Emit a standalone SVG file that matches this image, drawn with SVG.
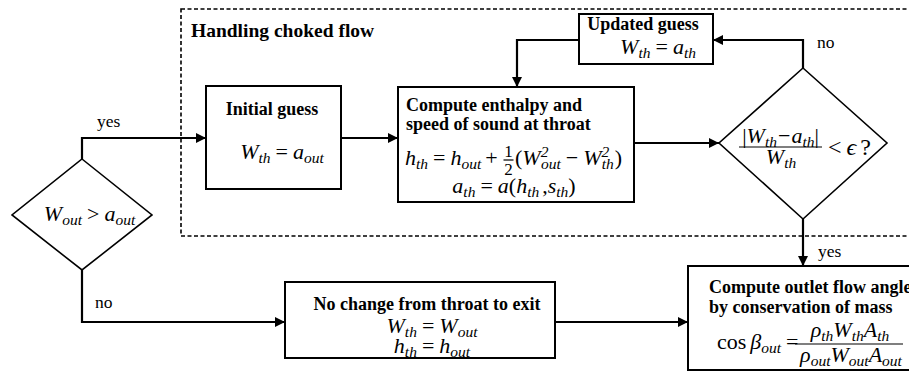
<svg xmlns="http://www.w3.org/2000/svg" width="909" height="374" viewBox="0 0 909 374">
  <defs>
    <marker id="arrow" markerUnits="userSpaceOnUse" markerWidth="11" markerHeight="10" refX="10" refY="5" orient="auto">
      <path d="M0,0 L10,5 L0,10 z" fill="#000"/>
    </marker>
    <style>
      .box { fill: #fff; stroke: #000; stroke-width: 2; }
      .dia { fill: #fff; stroke: #000; stroke-width: 1.6; }
      .wire { fill: none; stroke: #000; stroke-width: 2.2; }
      .arr { marker-end: url(#arrow); }
      .region { fill: none; stroke: #000; stroke-width: 1.6; stroke-dasharray: 4 2.5; }
      .hd { font-family: "Liberation Serif", "Times New Roman", serif; font-weight: bold; font-size: 18px; fill: #000; }
      .lbl { font-family: "Liberation Serif", "Times New Roman", serif; font-size: 17.5px; fill: #000; }
      .m { font-family: "Liberation Serif", "DejaVu Serif", serif; font-style: italic; font-size: 22px; fill: #000; }
      .up { font-style: normal; }
      .s { font-size: 15.5px; }
      .bar { stroke: #000; stroke-width: 1.2; }
    </style>
  </defs>

  <rect width="909" height="374" fill="#fff"/>

  <!-- choked-flow sub-process region -->
  <g id="choked-region">
    <rect class="region" x="181" y="9" width="740" height="227"/>
    <text class="hd" x="191" y="37" style="font-size:19.5px">Handling choked flow</text>
  </g>

  <!-- connectors -->
  <g id="connectors">
    <path class="wire arr" d="M82,159 V138 H206"/>
    <path class="wire arr" d="M341,138 H398"/>
    <path class="wire arr" d="M634,143 H719"/>
    <path class="wire arr" d="M803,68 V40 H713"/>
    <path class="wire arr" d="M579,40 H517 V87"/>
    <path class="wire arr" d="M803,219 V266"/>
    <path class="wire arr" d="M82,270 V322 H285"/>
    <path class="wire arr" d="M555,322 H688"/>
    <text class="lbl" x="97" y="127">yes</text>
    <text class="lbl" x="95" y="308">no</text>
    <text class="lbl" x="817" y="48">no</text>
    <text class="lbl" x="818" y="257">yes</text>
  </g>

  <!-- decision: supersonic outlet? -->
  <g id="check-outlet">
    <path class="dia" d="M82,159 L152,215 L82,270 L12,215 Z"/>
    <text class="m" x="89.5" y="221" text-anchor="middle">W<tspan class="s" dy="4">out</tspan><tspan class="up" dx="5" dy="-4">&gt;</tspan><tspan dx="5">a</tspan><tspan class="s" dy="4">out</tspan></text>
  </g>

  <!-- initial guess -->
  <g id="initial-guess">
    <rect class="box" x="206" y="86" width="135" height="103"/>
    <text class="hd" x="272" y="115" text-anchor="middle">Initial guess</text>
    <text class="m" x="282" y="159" text-anchor="middle">W<tspan class="s" dy="4">th</tspan><tspan class="up" dx="5" dy="-4">=</tspan><tspan dx="5">a</tspan><tspan class="s" dy="4">out</tspan></text>
  </g>

  <!-- enthalpy and speed of sound at throat -->
  <g id="compute-throat">
    <rect class="box" x="398" y="87" width="236" height="115"/>
    <text class="hd" x="406" y="111">Compute enthalpy and</text>
    <text class="hd" x="406" y="130">speed of sound at throat</text>
    <text class="m" x="405" y="165">h<tspan class="s" dy="4">th</tspan><tspan class="up" dx="5" dy="-4">=</tspan><tspan dx="5">h</tspan><tspan class="s" dy="4">out</tspan><tspan class="up" dx="4" dy="-4">+</tspan></text>
    <text class="m up" x="508.5" y="157" text-anchor="middle" style="font-size:17px">1</text>
    <line class="bar" x1="503.5" y1="160" x2="513.5" y2="160"/>
    <text class="m up" x="508.5" y="175" text-anchor="middle" style="font-size:17px">2</text>
    <text class="m" x="515" y="165"><tspan class="up">(</tspan>W<tspan class="s" dy="-8">2</tspan><tspan class="s" dx="-7.5" dy="12">out</tspan><tspan class="up" dx="5" dy="-4">−</tspan><tspan dx="5">W</tspan><tspan class="s" dy="-8">2</tspan><tspan class="s" dx="-7.5" dy="12">th</tspan><tspan class="up" dx="1" dy="-4">)</tspan></text>
    <text class="m" x="514" y="193" text-anchor="middle">a<tspan class="s" dy="4">th</tspan><tspan class="up" dx="5" dy="-4">=</tspan><tspan dx="5">a</tspan><tspan class="up">(</tspan>h<tspan class="s" dy="4">th</tspan><tspan class="up" dx="3" dy="-4">,</tspan>s<tspan class="s" dy="4">th</tspan><tspan class="up" dy="-4">)</tspan></text>
  </g>

  <!-- updated guess -->
  <g id="updated-guess">
    <rect class="box" x="579" y="14" width="134" height="50"/>
    <text class="hd" x="643" y="30" text-anchor="middle">Updated guess</text>
    <text class="m" x="658" y="54" text-anchor="middle">W<tspan class="s" dy="4">th</tspan><tspan class="up" dx="5" dy="-4">=</tspan><tspan dx="5">a</tspan><tspan class="s" dy="4">th</tspan></text>
  </g>

  <!-- convergence check -->
  <g id="check-converged">
    <path class="dia" d="M803,68 L887,143 L803,219 L719,143 Z"/>
    <text class="m" x="780.5" y="143" text-anchor="middle"><tspan class="up">|</tspan>W<tspan class="s" dy="4">th</tspan><tspan class="up" dx="1" dy="-4">−</tspan><tspan dx="1">a</tspan><tspan class="s" dy="4">th</tspan><tspan class="up" dy="-4">|</tspan></text>
    <line class="bar" x1="739" y1="147" x2="822" y2="147"/>
    <text class="m" x="781" y="164" text-anchor="middle">W<tspan class="s" dy="4">th</tspan></text>
    <text class="m" x="828" y="155" style="font-size:24px"><tspan class="up">&lt;</tspan><tspan dx="5">ϵ</tspan><tspan class="up" dx="4">?</tspan></text>
  </g>

  <!-- subsonic branch -->
  <g id="no-change">
    <rect class="box" x="285" y="282" width="270" height="76"/>
    <text class="hd" x="427" y="310" text-anchor="middle">No change from throat to exit</text>
    <text class="m" x="432" y="333" text-anchor="middle">W<tspan class="s" dy="4">th</tspan><tspan class="up" dx="5" dy="-4">=</tspan><tspan dx="5">W</tspan><tspan class="s" dy="4">out</tspan></text>
    <text class="m" x="432" y="353" text-anchor="middle">h<tspan class="s" dy="4">th</tspan><tspan class="up" dx="5" dy="-4">=</tspan><tspan dx="5">h</tspan><tspan class="s" dy="4">out</tspan></text>
  </g>

  <!-- outlet flow angle -->
  <g id="outlet-angle">
    <rect class="box" x="688" y="266" width="240" height="104"/>
    <text class="hd" x="709" y="293">Compute outlet flow angle</text>
    <text class="hd" x="709" y="313">by conservation of mass</text>
    <text class="m" x="717" y="349"><tspan class="up">cos</tspan><tspan dx="4">β</tspan><tspan class="s" dy="4">out</tspan><tspan class="up" dx="5" dy="-4">=</tspan></text>
    <text class="m" x="850" y="337" text-anchor="middle">ρ<tspan class="s" dy="4">th</tspan><tspan dy="-4">W</tspan><tspan class="s" dy="4">th</tspan><tspan dy="-4">A</tspan><tspan class="s" dy="4">th</tspan></text>
    <line class="bar" x1="795" y1="344" x2="903" y2="344"/>
    <text class="m" x="851" y="362" text-anchor="middle">ρ<tspan class="s" dy="4">out</tspan><tspan dy="-4">W</tspan><tspan class="s" dy="4">out</tspan><tspan dy="-4">A</tspan><tspan class="s" dy="4">out</tspan></text>
  </g>
</svg>
